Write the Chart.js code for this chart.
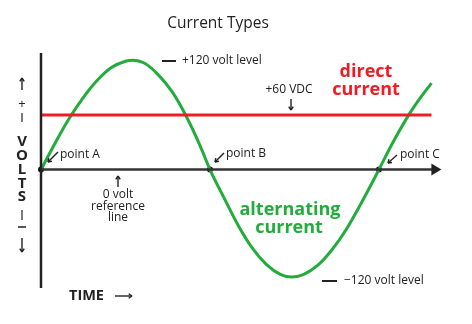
<!DOCTYPE html>
<html lang="en">
<head>
  <meta charset="UTF-8" />
  <title>Current Types</title>
  <script src="https://cdn.jsdelivr.net/npm/chart.js"></script>
  <style>
    html,body{margin:0;padding:0;background:#fff}
    .wrap{width:472px;height:324px;position:relative}
  </style>
</head>
<body>
  <div class="wrap"><canvas id="chart"></canvas></div>

<script>
// time in degrees of one cycle, volts
const timeDeg = [0,15,30,45,60,75,90,98,110,125,140,155,170,180,195,210,225,240,255,267,280,295,310,325,340,355,360,375,393,405,416];
const acVolts = [0,29,56,79,98,112,119,120,117,104,85,58,25,0,-31,-61,-86,-104,-115,-118,-115,-105,-88,-66,-39,-10,0,30,62,80,95];
const dcVolts = 60;
const dcEnd = 416;
const zeroPoints = [0,180,360];   // point A, B, C
const zeroEnd = 418;
const yMin = -130, yMax = 128;

const GREEN = '#22ac3c', RED = '#ee1c24', INK = '#222';
const FONT = '"Open Sans", "Noto Sans", sans-serif';

const acData = timeDeg.map((t,i)=>({x:t,y:acVolts[i]}));

function txt(ctx,s,x,y,size,color,bold,align){
  ctx.font=(bold?'bold ':'')+size+'px '+FONT;
  ctx.fillStyle=color;
  ctx.textAlign=align||'left';
  ctx.textBaseline='middle';
  ctx.fillText(s,x,y);
}
function seg(ctx,x1,y1,x2,y2,w){
  ctx.beginPath();ctx.moveTo(x1,y1);ctx.lineTo(x2,y2);
  ctx.lineWidth=w||1.5;ctx.strokeStyle=INK;ctx.stroke();
}
// small arrow from (x1,y1) to tip (x2,y2)
function arrow(ctx,x1,y1,x2,y2,h){
  seg(ctx,x1,y1,x2,y2,1.4);
  const a=Math.atan2(y2-y1,x2-x1), s=h||4;
  seg(ctx,x2,y2,x2-s*Math.cos(a-0.6),y2-s*Math.sin(a-0.6),1.4);
  seg(ctx,x2,y2,x2-s*Math.cos(a+0.6),y2-s*Math.sin(a+0.6),1.4);
}

const labels = {
  id:'labels',
  afterDraw(chart){
    const ctx=chart.ctx, xs=chart.scales.x, ys=chart.scales.y;
    ctx.save();
    // arrow head of the time axis
    const ax=xs.getPixelForValue(zeroEnd), ay=ys.getPixelForValue(0);
    ctx.beginPath();ctx.moveTo(ax-2,ay-6);ctx.lineTo(ax+8,ay);ctx.lineTo(ax-2,ay+6);ctx.closePath();
    ctx.fillStyle=INK;ctx.fill();

    txt(ctx,'Current Types',218,24,15.5,INK,false,'center');

    seg(ctx,162,61,176,61,2);
    txt(ctx,'+120 volt level',182,61,12,INK);
    seg(ctx,322,281,337,281,2);
    txt(ctx,'\u2212120 volt level',344,281,12,INK);

    txt(ctx,'+60 VDC',289,90,12,INK,false,'center');
    arrow(ctx,291,99,291,110,4);

    txt(ctx,'direct',366,72,18,RED,true,'center');
    txt(ctx,'current',366,90,18,RED,true,'center');
    txt(ctx,'alternating',290,210,18,GREEN,true,'center');
    txt(ctx,'current',289,228,18,GREEN,true,'center');

    txt(ctx,'point A',60,155,12,INK);
    arrow(ctx,58,152,48,162,4);
    txt(ctx,'point B',226,154,12,INK);
    arrow(ctx,224,153,215,162,4);
    txt(ctx,'point C',400,155,12,INK);
    arrow(ctx,397,155,388,163,4);

    arrow(ctx,118,187,118,176,4);
    txt(ctx,'0 volt',118,195,12,INK,false,'center');
    txt(ctx,'reference',118,207,12,INK,false,'center');
    txt(ctx,'line',118,218,12,INK,false,'center');

    // left side: ↑ + | VOLTS | − ↓
    arrow(ctx,22,90,22,78,4);
    txt(ctx,'+',22,104,13,INK,false,'center');
    seg(ctx,22,113,22,122,1.2);
    ['V','O','L','T','S'].forEach((c,i)=>txt(ctx,c,22,142+i*13.75,15,INK,true,'center'));
    seg(ctx,22,210,22,220,1.2);
    seg(ctx,18,227,26,227,1.5);
    arrow(ctx,22,238,22,252,4);

    txt(ctx,'TIME',69,296,14.5,INK,true);
    arrow(ctx,115,296,132,296,4);
    ctx.restore();
  }
};

new Chart(document.getElementById('chart'),{
  type:'scatter',
  data:{datasets:[
    {data:[{x:0,y:yMin},{x:0,y:yMax}],showLine:true,borderColor:INK,borderWidth:2.5,pointRadius:0,clip:false},
    {data:[{x:0,y:0},{x:zeroEnd,y:0}],showLine:true,borderColor:'#333',borderWidth:2.5,pointRadius:0,clip:false},
    {data:[{x:0,y:dcVolts},{x:dcEnd,y:dcVolts}],showLine:true,borderColor:RED,borderWidth:3,pointRadius:0},
    {data:acData,showLine:true,borderColor:GREEN,borderWidth:3,pointRadius:0,cubicInterpolationMode:'monotone',clip:false},
    {data:zeroPoints.map(t=>({x:t,y:0})),showLine:false,pointRadius:3,backgroundColor:'#111',borderWidth:0,clip:false}
  ]},
  options:{
    responsive:true,maintainAspectRatio:false,animation:false,
    layout:{padding:{left:41,top:53,right:18,bottom:36}},
    plugins:{legend:{display:false},tooltip:{enabled:false}},
    scales:{
      x:{type:'linear',min:0,max:440,display:false},
      y:{type:'linear',min:yMin,max:yMax,display:false}
    }
  },
  plugins:[labels]
});
</script>
</body>
</html>
